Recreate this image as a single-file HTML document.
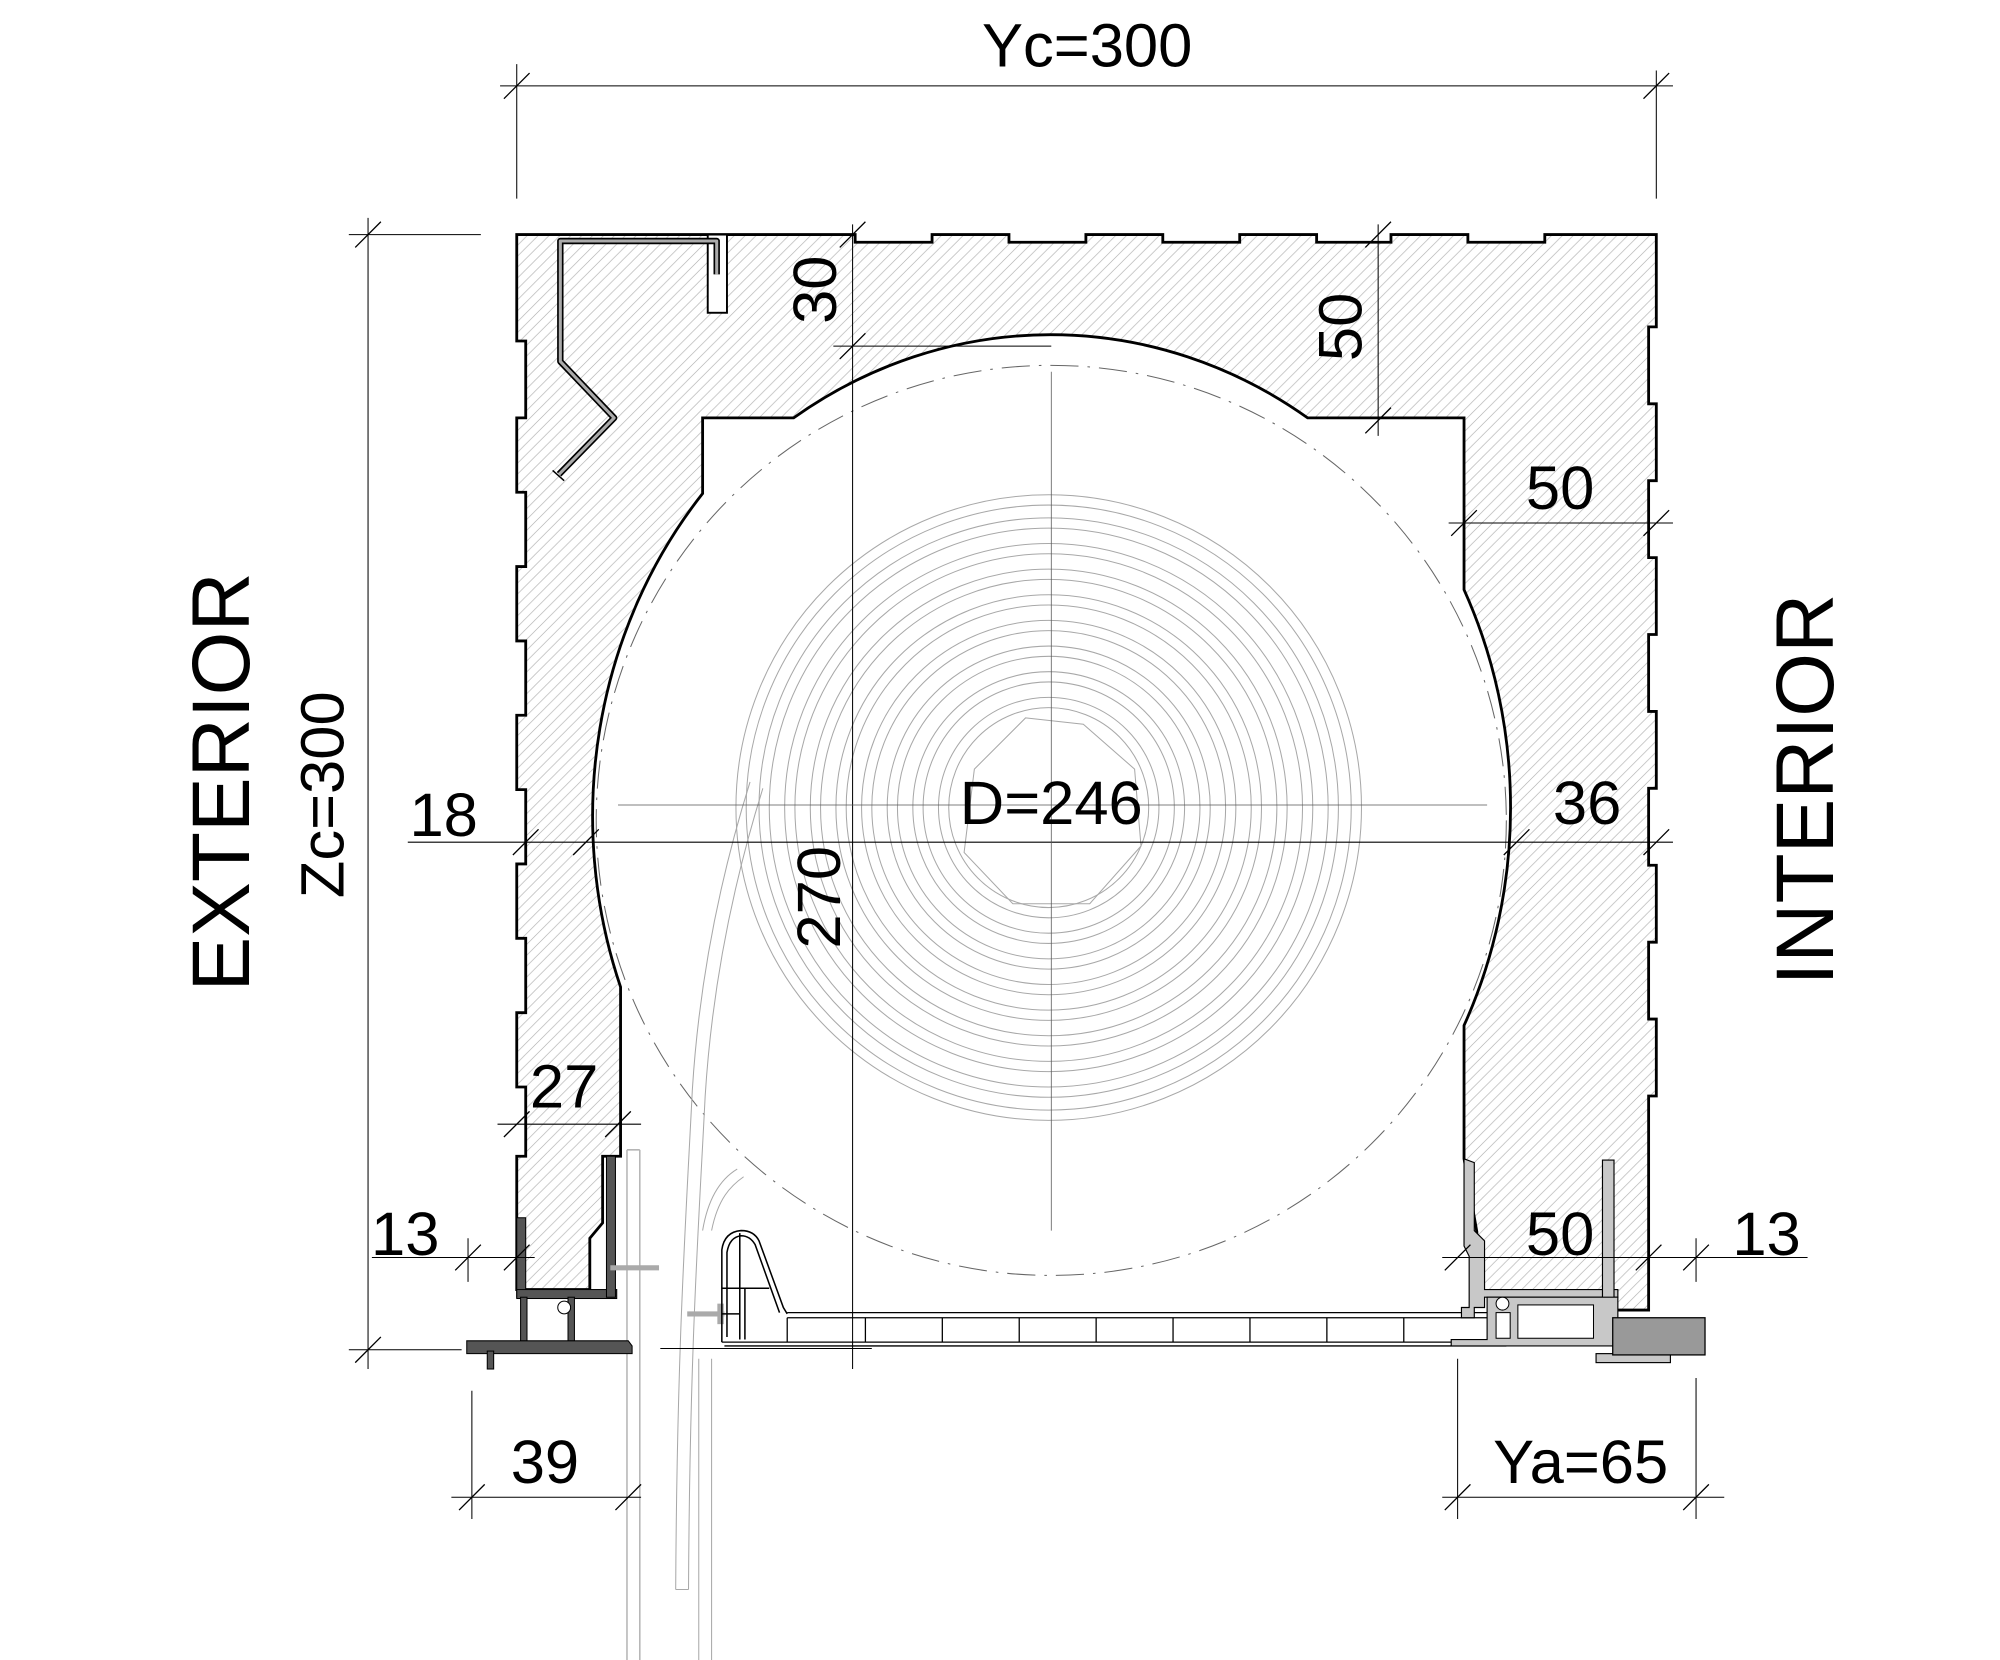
<!DOCTYPE html>
<html><head><meta charset="utf-8"><style>
html,body{margin:0;padding:0;background:#fff;}
svg{display:block;}
text{font-family:"Liberation Sans",Arial,sans-serif;fill:#000;}
</style></head><body>
<svg width="2000" height="1660" viewBox="0 0 1560 1295" xmlns="http://www.w3.org/2000/svg">
<defs>
<pattern id="h" patternUnits="userSpaceOnUse" width="8.5" height="8.5">
<path d="M-1,9.5 L9.5,-1 M-1,1 L1,-1 M7.5,9.5 L9.5,7.5" stroke="#b0b0b0" stroke-width="0.5"/>
</pattern>
</defs>

<circle cx="820" cy="640" r="355" fill="none" stroke="#666" stroke-width="0.8" stroke-dasharray="22 7 2 7"/>

<g fill="none" stroke="#a8a8a8" stroke-width="0.8">
<polygon points="800,560 845,565 885,600 890,660 850,705 790,705 752,665 760,600"/>
<circle cx="818" cy="630" r="78"/><circle cx="818" cy="630" r="86"/>
<circle cx="818" cy="630" r="98"/><circle cx="818" cy="630" r="106"/>
<circle cx="818" cy="630" r="118"/><circle cx="818" cy="630" r="126"/>
<circle cx="818" cy="630" r="138"/><circle cx="818" cy="630" r="146"/>
<circle cx="818" cy="630" r="158"/><circle cx="818" cy="630" r="166"/>
<circle cx="818" cy="630" r="178"/><circle cx="818" cy="630" r="186"/>
<circle cx="818" cy="630" r="198"/><circle cx="818" cy="630" r="206"/>
<circle cx="818" cy="630" r="218"/><circle cx="818" cy="630" r="226"/>
<circle cx="818" cy="630" r="236"/><circle cx="818" cy="630" r="244"/>
<path d="M585,610 C560,690 545,770 540,850 C535,950 528,1050 527,1240"/>
<path d="M595,615 C570,695 555,775 550,855 C545,955 538,1050 537,1240"/>
<path d="M527,1240 L537,1240"/>
<path d="M545,1060 L545,1295 M555,1060 L555,1295"/>
<path d="M555,960 C560,935 570,925 580,918 M548,960 C553,930 565,918 575,912"/>
</g>
<g fill="none" stroke="#b5b5b5" stroke-width="1.2">
<path d="M489,897 L489,1295 M499,897 L499,1295 M489,897 L499,897"/>
</g>

<path d="M460,1006 L403,1006 L403,902 L410,902 L410,848 L403,848 L403,790 L410,790 L410,732 L403,732 L403,674 L410,674 L410,616 L403,616 L403,558 L410,558 L410,500 L403,500 L403,442 L410,442 L410,384 L403,384 L403,326 L410,326 L410,266 L403,266 L403,183 L667,183 L667,189 L727,189 L727,183 L787,183 L787,189 L847,189 L847,183 L907,183 L907,189 L967,189 L967,183 L1027,183 L1027,189 L1085,189 L1085,183 L1145,183 L1145,189 L1205,189 L1205,183 L1292,183 L1292,255 L1286,255 L1286,315 L1292,315 L1292,375 L1286,375 L1286,435 L1292,435 L1292,495 L1286,495 L1286,555 L1292,555 L1292,615 L1286,615 L1286,675 L1292,675 L1292,735 L1286,735 L1286,795 L1292,795 L1292,855 L1286,855 L1286,1022 L1255,1022 L1255,1007 L1152,1007 L1152,961 L1142,904 L1142,800 A363,390 0 0 0 1142,460 L1142,326 L1020,326 A363,390 0 0 0 619,326 L548,326 L548,385 A363,390 0 0 0 484,770 L484,902 L470,902 L470,954 L460,966 Z" fill="#fff"/>
<path d="M460,1006 L403,1006 L403,902 L410,902 L410,848 L403,848 L403,790 L410,790 L410,732 L403,732 L403,674 L410,674 L410,616 L403,616 L403,558 L410,558 L410,500 L403,500 L403,442 L410,442 L410,384 L403,384 L403,326 L410,326 L410,266 L403,266 L403,183 L667,183 L667,189 L727,189 L727,183 L787,183 L787,189 L847,189 L847,183 L907,183 L907,189 L967,189 L967,183 L1027,183 L1027,189 L1085,189 L1085,183 L1145,183 L1145,189 L1205,189 L1205,183 L1292,183 L1292,255 L1286,255 L1286,315 L1292,315 L1292,375 L1286,375 L1286,435 L1292,435 L1292,495 L1286,495 L1286,555 L1292,555 L1292,615 L1286,615 L1286,675 L1292,675 L1292,735 L1286,735 L1286,795 L1292,795 L1292,855 L1286,855 L1286,1022 L1255,1022 L1255,1007 L1152,1007 L1152,961 L1142,904 L1142,800 A363,390 0 0 0 1142,460 L1142,326 L1020,326 A363,390 0 0 0 619,326 L548,326 L548,385 A363,390 0 0 0 484,770 L484,902 L470,902 L470,954 L460,966 Z" fill="url(#h)" stroke="#000" stroke-width="2.2" stroke-linejoin="miter"/>

<!-- top-left Z profile -->
<rect x="552" y="183" width="15" height="61" fill="#fff" stroke="#000" stroke-width="1.5"/>
<path d="M559,214 L559,188 L437,188 L437,282 L479,326 L436,370" fill="none" stroke="#000" stroke-width="5" stroke-linejoin="round"/>
<path d="M559,214 L559,188 L437,188 L437,282 L479,326 L436,370" fill="none" stroke="#aaa" stroke-width="2.4" stroke-linejoin="round"/>
<path d="M431,367 L440,375" stroke="#000" stroke-width="1.2"/>

<g fill="#555" stroke="#000" stroke-width="0.8">
<rect x="403" y="950" width="7" height="62"/>
<rect x="403" y="1006" width="78" height="7"/>
<rect x="473" y="902" width="7" height="110"/>
<rect x="406" y="1012" width="5" height="36"/>
<rect x="443" y="1012" width="5" height="36"/>
<path d="M364,1046 L490,1046 L493,1050 L493,1056 L364,1056 Z"/>
<rect x="380" y="1054" width="5" height="14"/>
<circle cx="440" cy="1020" r="5" fill="#fff"/>
</g>
<path d="M476,989 L514,989" stroke="#aaa" stroke-width="4"/>
<path d="M536,1025 L565,1025" stroke="#aaa" stroke-width="4"/>
<path d="M562,1017 L562,1033" stroke="#aaa" stroke-width="5"/>

<g fill="none" stroke="#000" stroke-width="1.2">
<path d="M563,1047 L563,975 Q565,961 578,960 Q588,960 592,968 L611,1020 L614,1025"/>
<path d="M567,1043 L567,977 Q569,965 578,964 Q585,964 589,971 L608,1024"/>
<path d="M577,962 L577,1045 M563,1005 L600,1005 M563,1025 L577,1025 M581,1005 L581,1045"/>
</g>
<g fill="none" stroke="#000" stroke-width="1">
<path d="M563,1047 L1175,1047 M565,1050 L1175,1050"/>
<path d="M614,1024 L1163,1024 M614,1028 L1163,1028"/>
<path d="M614,1028 L614,1047 M675,1028 L675,1047 M735,1028 L735,1047 M795,1028 L795,1047 M855,1028 L855,1047 M915,1028 L915,1047 M975,1028 L975,1047 M1035,1028 L1035,1047 M1095,1028 L1095,1047"/>
</g>

<g fill="#c8c8c8" stroke="#000" stroke-width="0.9">
<path d="M1142,904 L1150,907 L1150,960 L1158,968 L1158,1006 L1262,1006 L1262,1012 L1158,1012 L1158,1020 L1150,1020 L1150,1028 L1140,1028 L1140,1020 L1146,1020 L1146,980 L1142,972 Z"/>
<rect x="1250" y="905" width="9" height="115"/>
<path d="M1160,1012 L1262,1012 L1262,1050 L1132,1050 L1132,1045 L1160,1045 Z"/>
<rect x="1245" y="1056" width="58" height="7"/>
</g>
<g fill="#fff" stroke="#000" stroke-width="0.8">
<rect x="1167" y="1024" width="11" height="20"/>
<rect x="1184" y="1018" width="59" height="26"/>
<circle cx="1172" cy="1017" r="5"/>
</g>
<rect x="1258" y="1028" width="72" height="29" fill="#999" stroke="#000" stroke-width="1"/>

<g stroke="#000" stroke-width="0.8" fill="none">
<path d="M390,67 L1305,67 M403,50 L403,155 M1292,55 L1292,155"/>
<path d="M287,170 L287,1068 M272,183 L375,183 M272,1053 L360,1053"/>
<path d="M665,175 L665,1068 M650,270 L820,270"/>
<path d="M1075,175 L1075,340"/>
<path d="M1130,408 L1305,408"/>
<path d="M318,657 L1305,657"/>
<path d="M388,877 L500,877"/>
<path d="M290,981 L417,981 M365,966 L365,1000 M1125,981 L1410,981 M1323,966 L1323,1000"/>
<path d="M352,1168 L500,1168 M368,1085 L368,1185 M1125,1168 L1345,1168 M1137,1060 L1137,1185 M1323,1075 L1323,1185"/>
<path d="M515,1052 L680,1052"/>
</g>
<g stroke="#555" stroke-width="0.6" fill="none">
<path d="M820,290 L820,960 M482,628 L1160,628"/>
</g>
<g stroke="#000" stroke-width="1">
<path d="M393,77 L413,57 M1282,77 L1302,57 M277,193 L297,173 M277,1063 L297,1043 M655,193 L675,173 M655,280 L675,260 M1065,193 L1085,173 M1065,338 L1085,318 M1132,418 L1152,398 M1282,418 L1302,398 M400,667 L420,647 M447,667 L467,647 M1173,667 L1193,647 M1282,667 L1302,647 M393,887 L413,867 M472,887 L492,867 M355,991 L375,971 M393,991 L413,971 M1127,991 L1147,971 M1276,991 L1296,971 M1313,991 L1333,971 M358,1178 L378,1158 M480,1178 L500,1158 M1127,1178 L1147,1158 M1313,1178 L1333,1158"/>
</g>

<g font-size="48">
<text x="848" y="52" text-anchor="middle">Yc=300</text>
<text x="1217" y="397" text-anchor="middle">50</text>
<text x="346" y="652" text-anchor="middle">18</text>
<text x="1238" y="643" text-anchor="middle">36</text>
<text x="820" y="643" text-anchor="middle">D=246</text>
<text x="440" y="864" text-anchor="middle">27</text>
<text x="316" y="979" text-anchor="middle">13</text>
<text x="1217" y="979" text-anchor="middle">50</text>
<text x="1378" y="979" text-anchor="middle">13</text>
<text x="425" y="1157" text-anchor="middle">39</text>
<text x="1233" y="1157" text-anchor="middle">Ya=65</text>
<text transform="translate(652,226) rotate(-90)" text-anchor="middle">30</text>
<text transform="translate(1062,255) rotate(-90)" text-anchor="middle">50</text>
<text transform="translate(655,700) rotate(-90)" text-anchor="middle">270</text>
<text transform="translate(268,620) rotate(-90)" text-anchor="middle">Zc=300</text>
</g>
<g font-size="64">
<text transform="translate(194,610) rotate(-90)" text-anchor="middle">EXTERIOR</text>
<text transform="translate(1430,616) rotate(-90)" text-anchor="middle">INTERIOR</text>
</g>
</svg>
</body></html>
